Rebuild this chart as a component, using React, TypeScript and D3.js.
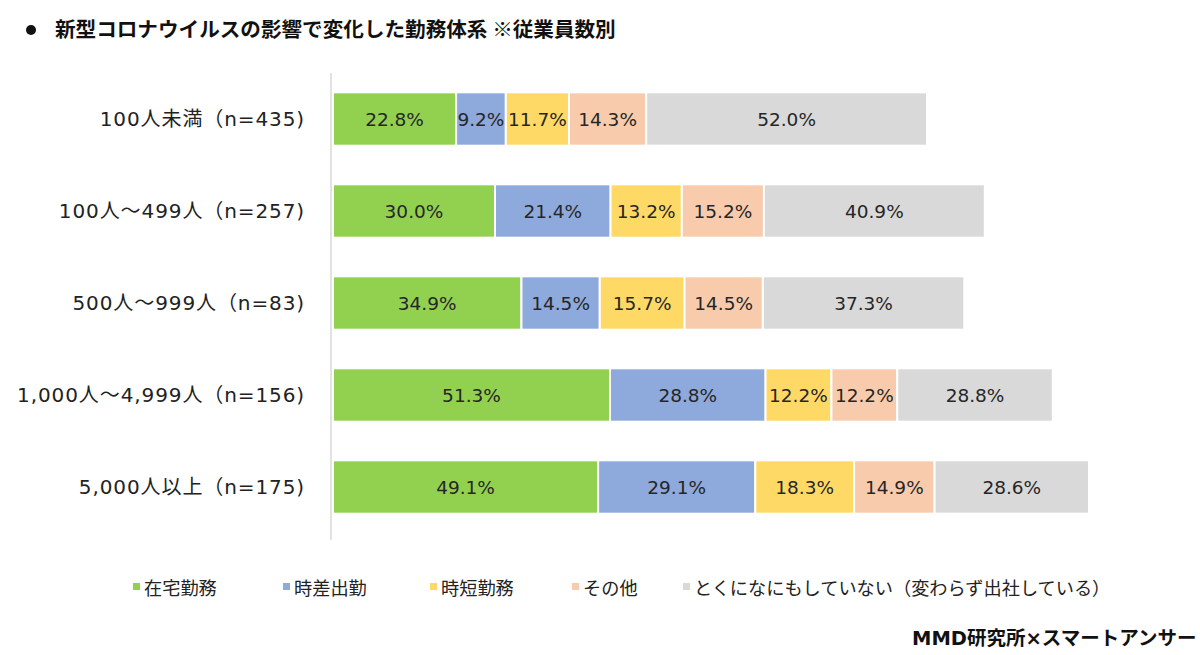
import React from "react";
import { scaleLinear, scaleBand, stack } from "d3";

const categories = [
  "100人未満（n=435)",
  "100人～499人（n=257)",
  "500人～999人（n=83)",
  "1,000人～4,999人（n=156)",
  "5,000人以上（n=175)",
];
const seriesNames = ["在宅勤務", "時差出勤", "時短勤務", "その他", "とくになにもしていない（変わらず出社している）"];
const zaitaku = [22.8, 30.0, 34.9, 51.3, 49.1];
const jisa = [9.2, 21.4, 14.5, 28.8, 29.1];
const jitan = [11.7, 13.2, 15.7, 12.2, 18.3];
const sonota = [14.3, 15.2, 14.5, 12.2, 14.9];
const nashi = [52.0, 40.9, 37.3, 28.8, 28.6];
const colors = ["#92D050", "#8EA9DB", "#FFD966", "#F8CBAD", "#D9D9D9"];

const font = "'DejaVu Sans', 'Noto Sans CJK JP', sans-serif";
const cjk = "'Noto Sans CJK JP', sans-serif";

export default function App() {
  const width = 1200;
  const height = 655;
  const left = 333;

  const rows = categories.map((c, i) => ({
    cat: c,
    s0: zaitaku[i],
    s1: jisa[i],
    s2: jitan[i],
    s3: sonota[i],
    s4: nashi[i],
  }));
  const keys = ["s0", "s1", "s2", "s3", "s4"];
  const series = stack<any>().keys(keys)(rows);

  const x = scaleLinear().domain([0, 100]).range([left, left + 540]);
  const y = scaleBand().domain(categories).range([73, 533]).paddingInner(0.42).paddingOuter(0.21);

  const legendX = [133, 283, 430, 572, 683];

  return (
    <svg width={width} height={height} style={{ position: "absolute", left: 0, top: 0, background: "#fff" }}>
      <rect width={width} height={height} fill="#fff" />
      <circle cx={31} cy={30} r={5} fill="#111" />
      <text x={55} y={37} fontFamily={cjk} fontWeight="bold" fontSize={20.6} fill="#111">
        新型コロナウイルスの影響で変化した勤務体系 ※従業員数別
      </text>

      <line x1={331} x2={331} y1={73} y2={540} stroke="#d9d9d9" strokeWidth={1.5} />

      {categories.map((c) => (
        <text key={c} x={305} y={(y(c) as number) + y.bandwidth() / 2 + 7} textAnchor="end"
          fontFamily={font} fontSize={20} letterSpacing={0.9} fill="#222">
          {c}
        </text>
      ))}

      {series.map((s, si) => (
        <g key={si}>
          {s.map((d: any, i: number) => {
            const x0 = x(d[0]);
            const x1 = x(d[1]);
            const yy = y(categories[i]) as number;
            return (
              <g key={i}>
                <rect x={x0} y={yy} width={x1 - x0} height={y.bandwidth()} fill={colors[si]}
                  stroke="#fff" strokeWidth={2} />
                <text x={(x0 + x1) / 2} y={yy + y.bandwidth() / 2 + 7} textAnchor="middle"
                  fontFamily={font} fontSize={18.5} fill="#262626">
                  {(d[1] - d[0]).toFixed(1)}%
                </text>
              </g>
            );
          })}
        </g>
      ))}

      {seriesNames.map((n, i) => (
        <g key={n}>
          <rect x={legendX[i]} y={583} width={7} height={7} fill={colors[i]} />
          <text x={legendX[i] + 11} y={595} fontFamily={cjk} fontSize={18.2} fill="#222">{n}</text>
        </g>
      ))}

      <text x={912} y={645} fontFamily={font} fontWeight="bold" fontSize={19.5} fill="#111">
        MMD研究所×スマートアンサー
      </text>
    </svg>
  );
}
